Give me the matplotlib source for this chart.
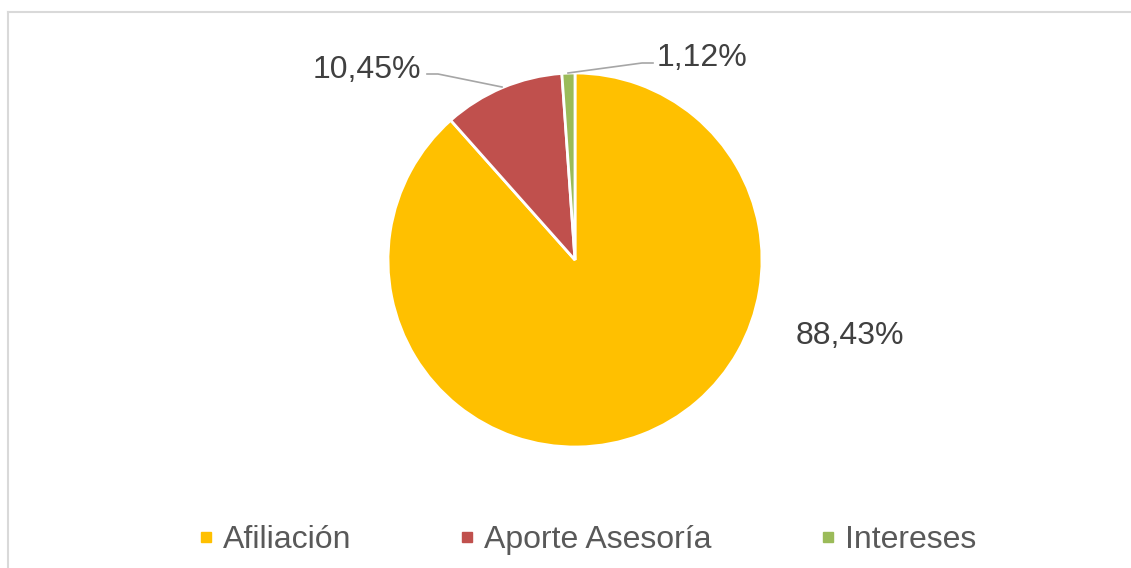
import matplotlib.pyplot as plt
from matplotlib.lines import Line2D

# datos
categorias = ["Afiliación", "Aporte Asesoría", "Intereses"]
valores = [88.43, 10.45, 1.12]
etiquetas = ["88,43%", "10,45%", "1,12%"]
colores = ["#FFC000", "#C0504D", "#9BBB59"]

plt.rcParams["font.family"] = ["Liberation Sans", "DejaVu Sans"]

W, H = 1131, 568
fig = plt.figure(figsize=(W / 100, H / 100), dpi=100)
ax = fig.add_axes([0, 0, 1, 1])

# pastel en coordenadas de píxel
cx, cy, r = 575, H - 260, 187
ax.pie(valores, colors=colores, startangle=90, counterclock=False,
       center=(cx, cy), radius=r,
       wedgeprops=dict(edgecolor="white", linewidth=2))
ax.set_xlim(0, W)
ax.set_ylim(0, H)
ax.set_aspect("equal")
ax.axis("off")

# etiquetas de datos
txt = dict(fontsize=23, color="#404040", va="center")
ax.text(850, H - 336, etiquetas[0], ha="center", **txt)
ax.text(421, H - 70, etiquetas[1], ha="right", **txt)
ax.text(657, H - 58, etiquetas[2], ha="left", **txt)

# líneas guía
gris = "#A6A6A6"
ax.plot([427, 438, 502], [H - 74, H - 74, H - 87], color=gris, lw=1.2)
ax.plot([568, 642, 653], [H - 73, H - 63, H - 63], color=gris, lw=1.2)

# leyenda
handles = [Line2D([], [], marker="s", ls="", markersize=7,
                  markerfacecolor=c, markeredgecolor=c) for c in colores]
ax.legend(handles, categorias, loc="center", bbox_to_anchor=(587 / W, 28 / H),
          ncol=3, frameon=False, fontsize=23, labelcolor="#595959",
          handlelength=0.5, handletextpad=0.28, columnspacing=3.38,
          borderpad=0)

# borde del gráfico (solo arriba e izquierda visibles)
fig.add_artist(Line2D([8 / W, 1], [1 - 12 / H, 1 - 12 / H],
                      transform=fig.transFigure, color="#D9D9D9", lw=1.5))
fig.add_artist(Line2D([8 / W, 8 / W], [0, 1 - 12 / H],
                      transform=fig.transFigure, color="#D9D9D9", lw=1.5))

fig.savefig("out.png", dpi=100)
